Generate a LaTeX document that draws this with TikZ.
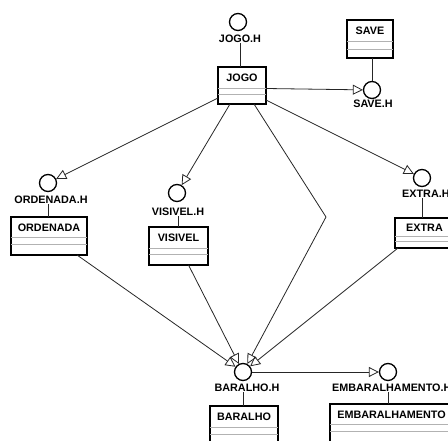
\documentclass[tikz,border=0pt]{standalone}
\usepackage{fontspec}
\setmainfont{Liberation Sans}
\usetikzlibrary{arrows.meta,fit,calc}

% class box: name, left, top, right, bottom, first separator, second separator, title
\newcommand\umlclass[8]{%
  \node[classbody,fit={(#2,#3) (#4,#5)}] (#1) {};
  \node[classtitle] (#1-t) at ($(#1.north)+(0,#6/2)$) {#8};
  \draw[compsep] ([yshift=-#6pt]#1.north west) -- ([yshift=-#6pt]#1.north east);
  \draw[compsep] ([yshift=-#7pt]#1.north west) -- ([yshift=-#7pt]#1.north east);
}

\begin{document}
\begin{tikzpicture}[x=1pt,y=-1pt,
  iface/.style={circle,draw=black,line width=1.3pt,minimum size=17pt,inner sep=0pt},
  lbl/.style={font=\fontsize{10.8}{12}\selectfont\bfseries,inner sep=0pt},
  classbody/.style={draw=black,line width=1.6pt,inner sep=0pt,outer sep=0pt},
  classtitle/.style={font=\fontsize{10.8}{12}\selectfont\bfseries,inner sep=0pt},
  compsep/.style={draw=gray!60,line width=1pt},
  link/.style={draw=black!85,line width=0.8pt},
  inh/.style={link,-{Triangle[open,length=10pt,width=10pt,line width=0.8pt]}},
]
\useasboundingbox (0,0) rectangle (448,441);
\clip (0,0) rectangle (448,441);

% classes
\umlclass{jogo}{218}{67}{266}{104}{22}{28}{JOGO}
\umlclass{save}{347}{20}{393}{58}{22}{30}{SAVE}
\umlclass{ord}{11}{217}{87}{255}{21}{28}{ORDENADA}
\umlclass{vis}{149}{227}{208}{265}{22}{28}{VISIVEL}
\umlclass{extra}{395}{218}{454}{248}{19}{24}{EXTRA}
\umlclass{bar}{210}{406}{278}{446}{22}{29}{BARALHO}
\umlclass{emb}{330}{404}{453}{444}{21}{28}{EMBARALHAMENTO}

% interfaces (header files)
\node[iface] (jogoH) at (238,22) {};
\node[iface] (saveH) at (372,90) {};
\node[iface] (ordH) at (48,183) {};
\node[iface] (visH) at (177,193) {};
\node[iface] (extraH) at (422,178) {};
\node[iface] (barH) at (243,372) {};
\node[iface] (embH) at (388,372) {};

\node[lbl] (jogoHl) at (240,39) {JOGO.H};
\node[lbl] (saveHl) at (373,104) {SAVE.H};
\node[lbl] (ordHl) at (51,200) {ORDENADA.H};
\node[lbl] (visHl) at (178,212) {VISIVEL.H};
\node[lbl,anchor=west] (extraHl) at (402,194) {EXTRA.H};
\node[lbl] (barHl) at (247,388) {BARALHO.H};
\node[lbl,anchor=west] (embHl) at (332,388) {EMBARALHAMENTO.H};

% header to class links
\draw[link] (jogoHl.south) -- (jogoHl.south |- jogo.north);
\draw[link] (saveH.north |- save.south) -- (saveH.north);
\draw[link] (ordH.south |- ordHl.south) -- (ordH.south |- ord.north);
\draw[link] (visHl.south) -- (visHl.south |- vis.north);
\draw[link] (extraH.south |- extraHl.south) -- (extraH.south |- extra.north);
\draw[link] (barH.south |- barHl.south) -- (barH.south |- bar.north);
\draw[link] (embH.south |- embHl.south) -- (embH.south |- emb.north);

% dependencies
\coordinate (bend) at (326,217);
\draw[inh] ([yshift=-3pt]jogo.east) -- (saveH);
\draw[inh] ([yshift=6pt]jogo.south west) -- (ordH);
\draw[inh] ([xshift=12pt]jogo.south west) -- (visH);
\draw[inh] ([yshift=4pt]jogo.south east) -- (extraH);
\draw[inh] ([xshift=-12pt]jogo.south east) -- (bend) -- (barH);
\draw[inh] ([xshift=28pt]ord.south) -- (barH);
\draw[inh] ([xshift=10pt]vis.south) -- (barH);
\draw[inh] ([xshift=3pt]extra.south west) -- (barH);
\draw[inh] (barH) -- (embH);
\end{tikzpicture}
\end{document}
